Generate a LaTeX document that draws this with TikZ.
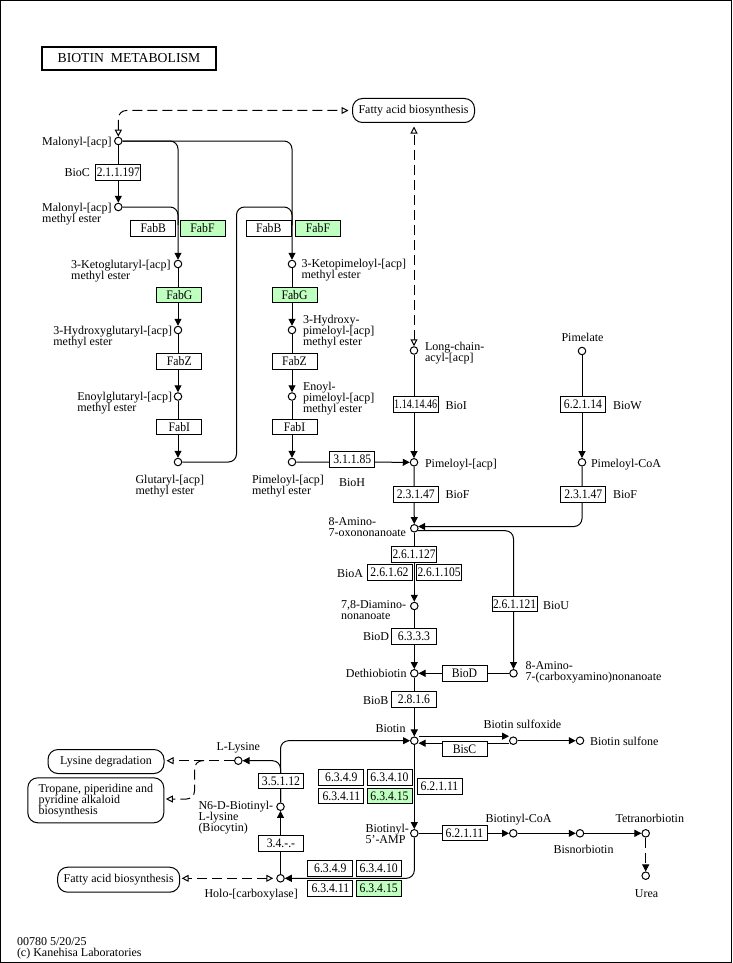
\documentclass[tikz,border=0pt]{standalone}
\usepackage{fontspec}
\setmainfont{Liberation Serif}
\usepackage{graphicx}
\usetikzlibrary{arrows.meta,calc}
\definecolor{kgreen}{RGB}{191,255,191}
\newsavebox{\ecsave}
\newcommand{\ecfit}[1]{\savebox{\ecsave}{\scalebox{0.9}[1]{#1}}\ifdim\wd\ecsave>43pt\resizebox{43pt}{\height}{\usebox{\ecsave}}\else\usebox{\ecsave}\fi}
\newcommand{\lbL}[1]{\vtop{\lineskiplimit=-20pt\lineskip=0pt\halign{##\hfil\cr#1\crcr}}}
\begin{document}
\begin{tikzpicture}[x=1pt,y=-1pt,font=\fontsize{12}{11}\selectfont,line width=1pt,
  cpd/.style={circle,draw,line width=1pt,fill=white,minimum size=7.5pt,inner sep=0pt},
  ec/.style={draw,line width=1pt,fill=white,minimum width=45pt,minimum height=15.5pt,inner sep=0pt,font=\fontsize{13}{13}\selectfont},
  ecg/.style={ec,fill=kgreen},
  map/.style={draw,line width=1pt,rounded corners=10pt,fill=white,inner sep=0pt},
  lbl/.style={inner sep=0pt},
  arr/.style={-{Triangle[length=7pt,width=7pt]}},
  oarr/.style={-{Triangle[open,length=7pt,width=7pt]}},
  boarr/.style={{Triangle[open,length=7pt,width=7pt]}-{Triangle[open,length=7pt,width=7pt]}},
  dsh/.style={dash pattern=on 10pt off 5pt},
  rc/.style={rounded corners=8pt}]
\useasboundingbox (0,0) rectangle (732,963);
\draw[line width=1.2pt] (0.6,0.6) rectangle (731.4,962.4);
% title
\node[draw,line width=2pt,minimum width=174pt,minimum height=23pt,inner sep=0pt,font=\fontsize{13.7}{14}\selectfont] (title) at (129,58.3) {BIOTIN\ \ METABOLISM};
% map boxes
\node[map,minimum width=122pt,minimum height=24pt] (fab1) at (413.5,110.5) {Fatty acid biosynthesis};
\node[map,minimum width=116pt,minimum height=24pt] (lysdeg) at (106,761.5) {Lysine degradation};
\node[map,minimum width=136pt,minimum height=45pt] (trop) at (95.8,800.3) {\lbL{Tropane, piperidine and\cr pyridine alkaloid\cr biosynthesis}};
\node[map,minimum width=122pt,minimum height=25pt] (fab2) at (118.7,879.7) {Fatty acid biosynthesis};
% compounds
\node[cpd] (mal) at (118.3,141) {};
\node[cpd] (malme) at (118.3,207) {};
\node[cpd] (kg) at (178,264) {};
\node[cpd] (hg) at (178,330) {};
\node[cpd] (eg) at (178,396.5) {};
\node[cpd] (glu) at (178,462) {};
\node[cpd] (kp) at (292,264) {};
\node[cpd] (hp) at (292,330) {};
\node[cpd] (ep) at (292,396.5) {};
\node[cpd] (pme) at (292,462) {};
\node[cpd] (lca) at (414,350.5) {};
\node[cpd] (pacp) at (414,462.3) {};
\node[cpd] (pim) at (582,351) {};
\node[cpd] (pcoa) at (582,462.3) {};
\node[cpd] (aon) at (414.3,528.3) {};
\node[cpd] (dan) at (414.3,606) {};
\node[cpd] (acn) at (513.5,673.3) {};
\node[cpd] (dtb) at (414.3,673.3) {};
\node[cpd] (bio) at (414.3,740.7) {};
\node[cpd] (bso) at (513.3,740.7) {};
\node[cpd] (bsf) at (580,740.7) {};
\node[cpd] (b5) at (414.3,833.3) {};
\node[cpd] (bcoa) at (513.3,833.3) {};
\node[cpd] (bnb) at (580,833.3) {};
\node[cpd] (tnb) at (645.7,833.3) {};
\node[cpd] (urea) at (645.7,875.7) {};
\node[cpd] (lys) at (238.3,760.7) {};
\node[cpd] (n6) at (280.5,806.7) {};
\node[cpd] (holo) at (280.5,878.3) {};
\coordinate (jm) at (178,225);
\coordinate (gturn) at (236.5,207);
\coordinate (jg) at (292,225);
\coordinate (lb) at (204,760.7);
\coordinate (tb) at (194.5,799);
% connectors
\draw[arr] (mal) -- (malme);
\draw[arr,rc] (mal.east) -| (kg.north);
\draw[arr,rc] (mal.east) -| (kp.north);
\draw[rc] (malme.east) -| (jm);
\draw[rc] (glu.east) -| (gturn) -| (jg);
\draw[arr] (kg) -- (hg);
\draw[arr] (hg) -- (eg);
\draw[arr] (eg) -- (glu);
\draw[arr] (kp) -- (hp);
\draw[arr] (hp) -- (ep);
\draw[arr] (ep) -- (pme);
\draw[arr] (pme) -- (pacp);
\draw[arr] (lca) -- (pacp);
\draw[arr] (pacp) -- (aon);
\draw[arr] (pim) -- (pcoa);
\draw[arr,rc] (pcoa.south) |- (aon.25);
\draw[arr,rc] (aon.-35) -| (acn.north);
\draw[arr] (aon) -- (dan);
\draw[arr] (dan) -- (dtb);
\draw[arr] (acn) -- (dtb);
\draw[arr] (dtb) -- (bio);
\draw[arr] ([yshift=4.5pt]bio.east) -- ([yshift=4.5pt]bso.west);
\draw[arr] ([yshift=-2.5pt]bso.west) -- ([yshift=-2.5pt]bio.east);
\draw[arr] (bso) -- (bsf);
\draw[arr] (bio) -- (b5);
\draw[arr] (b5) -- (bcoa);
\draw[arr] (bcoa) -- (bnb);
\draw[arr] (bnb) -- (tnb);
\draw[arr,dsh] (tnb) -- (urea);
\draw[arr,rc] (b5.south) |- (holo.east);
\draw[arr] (holo) -- (n6);
\draw[arr,rc] (n6.north) |- (bio.west);
\draw[arr,rc] (n6.north) |- (lys.east);
\draw[dsh,oarr,shorten >=2pt] (lys.west) -- (lys.west -| lysdeg.east);
\draw[dsh,oarr,rc,shorten >=1.5pt] (lb) -| (tb) -- (tb -| trop.east);
\draw[dsh,boarr,shorten <=3pt,shorten >=1.5pt] (holo.west) -- (holo.west -| fab2.east);
\draw[dsh,boarr,rc,shorten >=3.5pt] (mal.north) |- (fab1.west);
\draw[dsh,boarr,shorten >=3.5pt] (lca.north) -- (lca.north |- fab1.south);
% enzyme boxes
\node[ec] (e1) at (118.3,172.3) {\ecfit{2.1.1.197}};
\node[ec] (fabbL) at (153.3,228.5) {\ecfit{FabB}};
\node[ecg] (fabfL) at (202.5,228.5) {\ecfit{FabF}};
\node[ec] (fabbR) at (268.7,228.5) {\ecfit{FabB}};
\node[ecg] (fabfR) at (318,228.5) {\ecfit{FabF}};
\node[ecg] (fabgL) at (179.3,294.8) {\ecfit{FabG}};
\node[ecg] (fabgR) at (294.5,294.8) {\ecfit{FabG}};
\node[ec] (fabzL) at (179.3,361.5) {\ecfit{FabZ}};
\node[ec] (fabzR) at (294.5,361.3) {\ecfit{FabZ}};
\node[ec] (fabiL) at (179.3,427.2) {\ecfit{FabI}};
\node[ec] (fabiR) at (294.5,426.8) {\ecfit{FabI}};
\node[ec] (e3) at (352.3,459.5) {\ecfit{3.1.1.85}};
\node[ec] (e4) at (415.7,404.7) {\ecfit{1.14.14.46}};
\node[ec] (e5) at (415.8,494.5) {\ecfit{2.3.1.47}};
\node[ec] (e6) at (583,404.7) {\ecfit{6.2.1.14}};
\node[ec] (e7) at (583.3,494.5) {\ecfit{2.3.1.47}};
\node[ec] (e8) at (414,554.5) {\ecfit{2.6.1.127}};
\node[ec] (e9) at (389.5,572.5) {\ecfit{2.6.1.62}};
\node[ec] (e10) at (439,572.5) {\ecfit{2.6.1.105}};
\node[ec] (e11) at (514.5,604.2) {\ecfit{2.6.1.121}};
\node[ec] (e12) at (414,636.3) {\ecfit{6.3.3.3}};
\node[ec] (e13) at (464.5,673.7) {\ecfit{BioD}};
\node[ec] (e14) at (414,699.5) {\ecfit{2.8.1.6}};
\node[ec] (e15) at (464.5,749) {\ecfit{BisC}};
\node[ec] (e16) at (341.3,777.6) {\ecfit{6.3.4.9}};
\node[ec] (e17) at (389.5,777.6) {\ecfit{6.3.4.10}};
\node[ec] (e18) at (341.3,796) {\ecfit{6.3.4.11}};
\node[ecg] (e19) at (389.5,796) {\ecfit{6.3.4.15}};
\node[ec] (e20) at (439.5,786.7) {\ecfit{6.2.1.11}};
\node[ec] (e21) at (464.5,833) {\ecfit{6.2.1.11}};
\node[ec] (e22) at (281,780.8) {\ecfit{3.5.1.12}};
\node[ec] (e23) at (281,843.7) {\ecfit{3.4.-.-}};
\node[ec] (e24) at (330.3,868.3) {\ecfit{6.3.4.9}};
\node[ec] (e25) at (378.7,868.3) {\ecfit{6.3.4.10}};
\node[ec] (e26) at (330.3,888.3) {\ecfit{6.3.4.11}};
\node[ecg] (e27) at (378.7,888.3) {\ecfit{6.3.4.15}};
% labels
\node[lbl,anchor=base east] (tmal) at (112,145.5) {Malonyl-[acp]};
\node[lbl,anchor=base east] (tmalme) at (112,211.5) {\lbL{Malonyl-[acp]\cr methyl ester}};
\node[lbl,anchor=base east] (tbioc) at (90.5,176.5) {BioC};
\node[lbl,anchor=base east] (tkg) at (171,268) {\lbL{3-Ketoglutaryl-[acp]\cr methyl ester}};
\node[lbl,anchor=base east] (thg) at (172.5,334) {\lbL{3-Hydroxyglutaryl-[acp]\cr methyl ester}};
\node[lbl,anchor=base east] (teg) at (172.5,400.5) {\lbL{Enoylglutaryl-[acp]\cr methyl ester}};
\node[lbl,anchor=base west] (tglu) at (135,483) {\lbL{Glutaryl-[acp]\cr methyl ester}};
\node[lbl,anchor=base west] (tkp) at (301,267) {\lbL{3-Ketopimeloyl-[acp]\cr methyl ester}};
\node[lbl,anchor=base west] (thp) at (302.5,323.5) {\lbL{3-Hydroxy-\cr pimeloyl-[acp]\cr methyl ester}};
\node[lbl,anchor=base west] (tep) at (302.5,390) {\lbL{Enoyl-\cr pimeloyl-[acp]\cr methyl ester}};
\node[lbl,anchor=base west] (tpme) at (251.5,483) {\lbL{Pimeloyl-[acp]\cr methyl ester}};
\node[lbl,anchor=base] (tbioh) at (352,486) {BioH};
\node[lbl,anchor=base west] (tlca) at (424.5,350.5) {\lbL{Long-chain-\cr acyl-[acp]}};
\node[lbl,anchor=base west] (tbioi) at (445,409) {BioI};
\node[lbl,anchor=base west] (tpacp) at (424.5,467) {Pimeloyl-[acp]};
\node[lbl,anchor=base west] (tbiof1) at (445,498) {BioF};
\node[lbl,anchor=base] (tpim) at (582.5,341) {Pimelate};
\node[lbl,anchor=base west] (tbiow) at (612.5,409) {BioW};
\node[lbl,anchor=base west] (tpcoa) at (590.5,467) {Pimeloyl-CoA};
\node[lbl,anchor=base west] (tbiof2) at (612.5,498) {BioF};
\node[lbl,anchor=base east] (taon) at (406.5,525.5) {\lbL{8-Amino-\cr 7-oxononanoate}};
\node[lbl,anchor=base west] (tbioa) at (336.5,577) {BioA};
\node[lbl,anchor=base east] (tdan) at (406.5,608) {\lbL{7,8-Diamino-\cr nonanoate}};
\node[lbl,anchor=base west] (tbiod) at (362.5,640.5) {BioD};
\node[lbl,anchor=base east] (tdtb) at (407,677.5) {Dethiobiotin};
\node[lbl,anchor=base west] (tbiou) at (542.5,609) {BioU};
\node[lbl,anchor=base west] (tacn) at (525,669) {\lbL{8-Amino-\cr 7-(carboxyamino)nonanoate}};
\node[lbl,anchor=base west] (tbiob) at (362.5,704) {BioB};
\node[lbl,anchor=base west] (tbio) at (375,732.5) {Biotin};
\node[lbl,anchor=base west] (tbso) at (483,728.5) {Biotin sulfoxide};
\node[lbl,anchor=base west] (tbsf) at (589.5,745) {Biotin sulfone};
\node[lbl,anchor=base west] (tb5) at (365,832.5) {\lbL{Biotinyl-\cr 5'-AMP}};
\node[lbl,anchor=base west] (tbcoa) at (485,822.5) {Biotinyl-CoA};
\node[lbl,anchor=base west] (tbnb) at (553,853) {Bisnorbiotin};
\node[lbl,anchor=base west] (ttnb) at (615,822.5) {Tetranorbiotin};
\node[lbl,anchor=base] (turea) at (646.5,897) {Urea};
\node[lbl,anchor=base] (tlys) at (238.3,750) {L-Lysine};
\node[lbl,anchor=base west] (tn6) at (198,809) {\lbL{N6-D-Biotinyl-\cr L-lysine\cr (Biocytin)}};
\node[lbl,anchor=base west] (tholo) at (204,897.5) {Holo-[carboxylase]};
\node[lbl,anchor=base west] (foot) at (16.5,945.5) {\lbL{00780 5/20/25\cr (c) Kanehisa Laboratories}};
\end{tikzpicture}
\end{document}
